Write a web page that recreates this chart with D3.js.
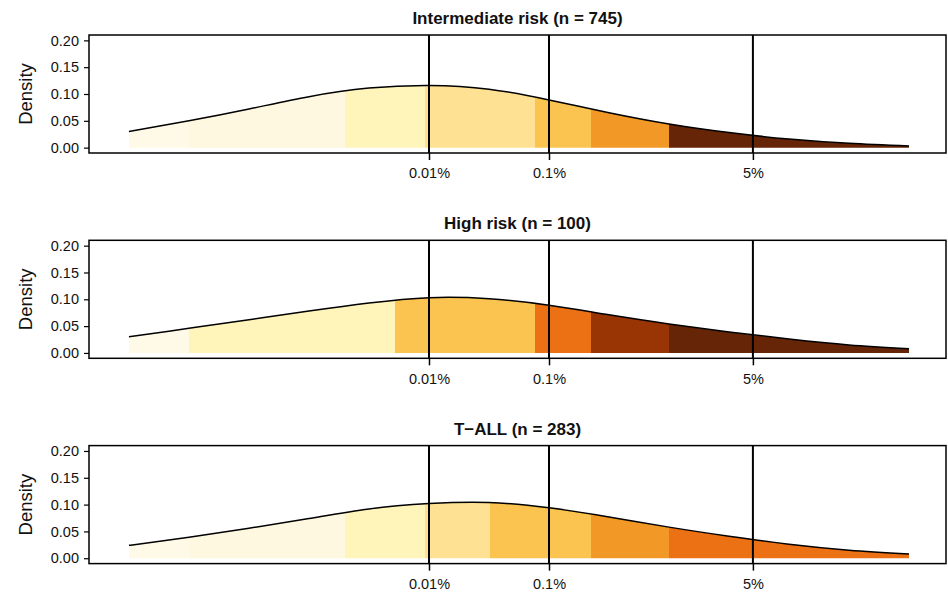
<!DOCTYPE html>
<html>
<head>
<meta charset="utf-8">
<script src="https://cdn.jsdelivr.net/npm/d3@7"></script>
<style>
  body { margin: 0; background: #fff; }
  svg { display: block; font-family: 'Liberation Sans', Arial, sans-serif; }
</style>
</head>
<body>
<svg width="948" height="595"></svg>
<script>
// log10(MRD) grid where the density was read
const LOG_MRD = [-6.5, -6, -5.5, -5, -4.5, -4, -3.5, -3, -2.5, -2, -1.5, -1, -0.5, 0];

const TITLES = ['Intermediate risk (n = 745)', 'High risk (n = 100)', 'T\u2212ALL (n = 283)'];

const DENS_IR = [0.030, 0.050, 0.072, 0.095, 0.111, 0.116, 0.109, 0.089, 0.065, 0.044, 0.028, 0.016, 0.008, 0.003];
const DENS_HR = [0.030, 0.046, 0.062, 0.078, 0.093, 0.103, 0.101, 0.089, 0.071, 0.054, 0.039, 0.026, 0.015, 0.008];
const DENS_TALL = [0.024, 0.039, 0.056, 0.074, 0.092, 0.102, 0.104, 0.094, 0.077, 0.058, 0.041, 0.026, 0.015, 0.008];

// segment edges (log10 MRD) for the coloured bands
const BREAKS = [-6.5, -6, -4.7, -4.28, -4.03, -3.49, -3.12, -2.65, -2, 0];

const COLS_IR = ['#fffae8', '#fef8e0', '#fff5bb', '#fff5bb', '#fee192', '#fee192', '#fbc350', '#f29826', '#662506'];
const COLS_HR = ['#fffae8', '#fff5bb', '#fff5bb', '#fbc350', '#fbc350', '#fbc350', '#ec7014', '#993404', '#662506'];
const COLS_TALL = ['#fffae8', '#fef8e0', '#fff5bb', '#fff5bb', '#fee192', '#fbc350', '#fbc350', '#f29826', '#ec7014'];

const TICK_MRD = [0.0001, 0.001, 0.05];
const TICK_LABELS = ['0.01%', '0.1%', '5%'];
const Y_TICKS = [0, 0.05, 0.1, 0.15, 0.2];

const panels = [
  { title: TITLES[0], dens: DENS_IR, cols: COLS_IR },
  { title: TITLES[1], dens: DENS_HR, cols: COLS_HR },
  { title: TITLES[2], dens: DENS_TALL, cols: COLS_TALL }
];

const svg = d3.select('svg');
const left = 89, right = 946, panelH = 118, firstTop = 35, step = 205.3;

const x = d3.scaleLinear().domain([-6.833, 0.308]).range([left, right]);

panels.forEach((p, i) => {
  const top = firstTop + i * step;
  const y = d3.scaleLinear().domain([-0.01, 0.21]).range([top + panelH, top]);
  const g = svg.append('g');
  const pts = LOG_MRD.map((v, j) => [v, p.dens[j]]);

  const area = d3.area()
      .x(d => x(d[0]))
      .y0(y(0))
      .y1(d => y(d[1]))
      .curve(d3.curveNatural);
  const line = d3.line()
      .x(d => x(d[0]))
      .y(d => y(d[1]))
      .curve(d3.curveNatural);

  const clipId = 'clip' + i;
  svg.append('clipPath').attr('id', clipId)
    .append('path').attr('d', area(pts));

  // coloured bands under the curve
  g.append('g')
      .attr('clip-path', `url(#${clipId})`)
    .selectAll('rect')
    .data(p.cols)
    .enter().append('rect')
      .attr('x', (d, k) => Math.round(x(BREAKS[k])))
      .attr('width', (d, k) => Math.round(x(BREAKS[k + 1])) - Math.round(x(BREAKS[k])))
      .attr('y', top)
      .attr('height', panelH)
      .attr('shape-rendering', 'crispEdges')
      .attr('fill', d => d);

  g.append('path')
      .attr('d', line(pts))
      .attr('fill', 'none')
      .attr('stroke', '#000')
      .attr('stroke-width', 1.5);

  // vertical reference lines
  g.selectAll('.vline')
    .data(TICK_MRD)
    .enter().append('line')
      .attr('x1', d => x(Math.log10(d)))
      .attr('x2', d => x(Math.log10(d)))
      .attr('y1', top)
      .attr('y2', top + panelH)
      .attr('stroke', '#000')
      .attr('stroke-width', 2);

  // frame
  g.append('rect')
      .attr('x', left)
      .attr('y', top)
      .attr('width', right - left)
      .attr('height', panelH)
      .attr('fill', 'none')
      .attr('stroke', '#000')
      .attr('stroke-width', 1.5);

  // y axis
  const yAxis = g.append('g')
      .attr('transform', `translate(${left},0)`)
      .call(d3.axisLeft(y).tickValues(Y_TICKS).tickFormat(d3.format('.2f')).tickSize(5).tickPadding(5));
  yAxis.select('.domain').remove();
  yAxis.selectAll('line').attr('stroke-width', 1.2);
  yAxis.selectAll('text').attr('font-size', 14.5).attr('fill', '#111').attr('font-family', null);

  // x axis
  const xAxis = g.append('g')
      .attr('transform', `translate(0,${top + panelH})`)
      .call(d3.axisBottom(x)
        .tickValues(TICK_MRD.map(d => Math.log10(d)))
        .tickFormat((d, k) => TICK_LABELS[k])
        .tickSize(7).tickPadding(8));
  xAxis.select('.domain').remove();
  xAxis.selectAll('line').attr('stroke-width', 1.5);
  xAxis.selectAll('text').attr('font-size', 14.5).attr('fill', '#111').attr('font-family', null);

  g.append('text')
      .attr('transform', `translate(32,${top + panelH / 2})rotate(-90)`)
      .attr('text-anchor', 'middle')
      .attr('font-size', 18.5)
      .attr('fill', '#111')
      .text('Density');

  g.append('text')
      .attr('x', (left + right) / 2)
      .attr('y', top - 11)
      .attr('text-anchor', 'middle')
      .attr('font-size', 17)
      .attr('font-weight', 'bold')
      .attr('fill', '#111')
      .text(p.title);
});
</script>
</body>
</html>
